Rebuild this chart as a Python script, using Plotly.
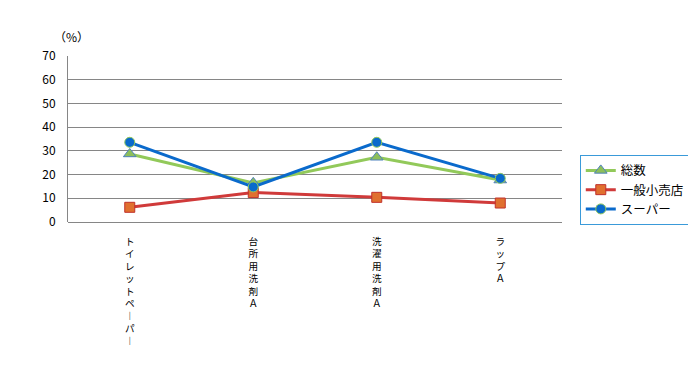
import plotly.graph_objects as go

categories = ["トイレットペーパー", "台所用洗剤Ａ", "洗濯用洗剤Ａ", "ラップＡ"]
total = [28.7, 16.5, 27.3, 17.7]
small_store = [6.2, 12.4, 10.4, 8.0]
supermarket = [33.6, 14.8, 33.6, 18.4]
y_ticks = [0, 10, 20, 30, 40, 50, 60, 70]

def vertical(s):
    return "<br>".join("︱" if c == "ー" else c for c in s)

tick_text = [vertical(c) for c in categories]
font = "Noto Sans CJK JP, sans-serif"

fig = go.Figure()
fig.add_trace(go.Scatter(
    x=categories, y=total, name="総数", mode="lines+markers",
    line=dict(color="#92C95A", width=3),
    marker=dict(symbol="triangle-up", size=11, color="#8DBF5A",
                line=dict(color="#4F81BD", width=1)),
))
fig.add_trace(go.Scatter(
    x=categories, y=small_store, name="一般小売店", mode="lines+markers",
    line=dict(color="#D03A3A", width=3),
    marker=dict(symbol="square", size=10, color="#E0702F",
                line=dict(color="#C0302A", width=1)),
))
fig.add_trace(go.Scatter(
    x=categories, y=supermarket, name="スーパー", mode="lines+markers",
    line=dict(color="#0A6ACC", width=3),
    marker=dict(symbol="circle", size=10, color="#0A6ACC",
                line=dict(color="#92C95A", width=1)),
))

fig.update_layout(
    width=680, height=369,
    margin=dict(l=60, r=126, t=48, b=155, autoexpand=False),
    paper_bgcolor="white", plot_bgcolor="white",
    font=dict(family=font, size=12, color="#000000"),
    showlegend=True,
    legend=dict(
        x=1.036, y=0.405, xanchor="left", yanchor="top",
        bordercolor="#3A9AD9", borderwidth=1,
        font=dict(family=font, size=12.5),
    ),
    xaxis=dict(
        tickmode="array", tickvals=categories, ticktext=tick_text,
        range=[-0.5, 3.5],
        showgrid=False, showline=False, ticks="",
        tickfont=dict(family=font, size=9.6), tickangle=0,
        ticklabelstandoff=12,
    ),
    yaxis=dict(
        range=[0, 70], tickvals=y_ticks,
        showgrid=True, gridcolor="#868686", gridwidth=1,
        showline=True, linecolor="#868686", linewidth=1,
        zeroline=True, zerolinecolor="#868686", zerolinewidth=1,
        ticks="", tickfont=dict(family=font, size=12),
        ticklabelstandoff=9,
    ),
    annotations=[dict(
        text="（%）", x=0, y=1.0, xref="paper", yref="paper",
        xanchor="center", yanchor="bottom", xshift=3, yshift=9,
        showarrow=False, font=dict(family=font, size=12),
    )],
)

fig.write_html("out.html")
